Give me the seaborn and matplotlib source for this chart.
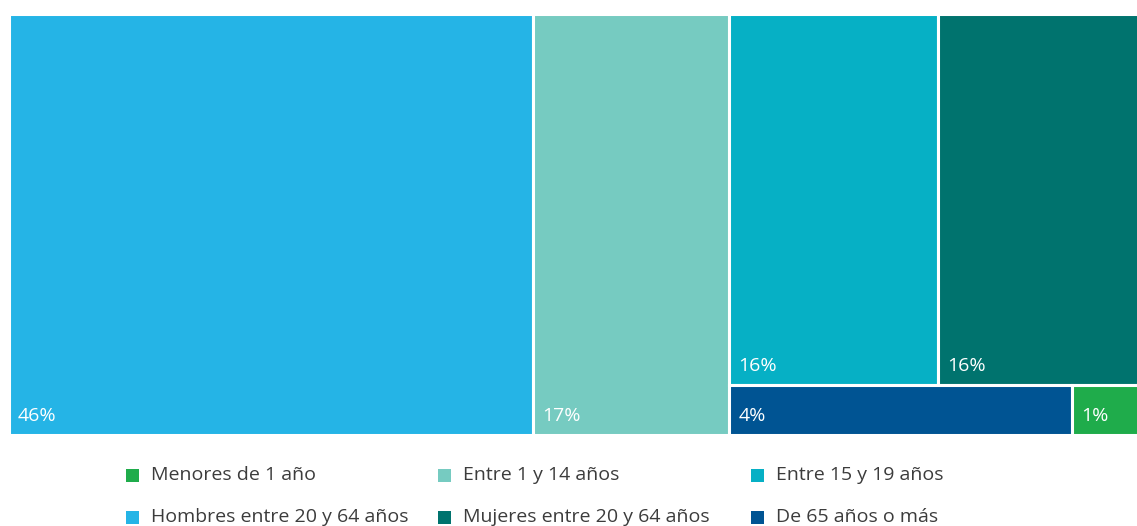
import matplotlib
matplotlib.use("Agg")
import matplotlib.pyplot as plt
from matplotlib.patches import Rectangle
import seaborn as sns

# data, in legend order (shares, labels shown rounded)
categories = ["Menores de 1 año", "Entre 1 y 14 años", "Entre 15 y 19 años",
              "Hombres entre 20 y 64 años", "Mujeres entre 20 y 64 años", "De 65 años o más"]
shares = [0.7, 17.4, 16.3, 46.4, 15.6, 3.6]
colors = ["#1fac4b", "#76cbc1", "#06b0c5", "#25b4e6", "#00736e", "#005493"]

# treemap structure: columns -> rows -> category indices
layout = [[[3]], [[1]], [[2, 4], [5, 0]]]

sns.set_theme(style="white")
plt.rcParams["font.family"] = ["Open Sans", "DejaVu Sans"]

W, H = 1137, 526
fig = plt.figure(figsize=(W / 100, H / 100), dpi=100)
ax = fig.add_axes([8.5 / W, (H - 434.5) / H, (W + 1.5 - 8.5) / W, (434.5 - 14.5) / H])
ax.set_xlim(0, 100)
ax.set_ylim(100, 0)
ax.axis("off")

total = sum(shares)
x = 0.0
for col in layout:
    col_sum = sum(shares[i] for row in col for i in row)
    cw = 100 * col_sum / total
    y = 0.0
    for row in col:
        row_sum = sum(shares[i] for i in row)
        rh = 100 * row_sum / col_sum
        xx = x
        for i in row:
            w = cw * shares[i] / row_sum
            ax.add_patch(Rectangle((xx, y), w, rh, facecolor=colors[i],
                                   edgecolor="white", linewidth=2.2))
            ax.annotate(f"{round(shares[i])}%", xy=(xx, y + rh), xytext=(6.5, 10),
                        textcoords="offset points", color="white", fontsize=14,
                        ha="left", va="baseline")
            xx += w
        y += rh
    x += cw

# legend, 3 columns filled row-wise
col_x = [126, 438, 751]
row_y = [475.5, 517]
for k, (name, c) in enumerate(zip(categories, colors)):
    r, cidx = divmod(k, 3)
    px, py = col_x[cidx], row_y[r]
    fig.patches.append(Rectangle((px / W, (H - py - 6.5) / H), 13 / W, 13 / H,
                                 transform=fig.transFigure, facecolor=c, edgecolor="none"))
    fig.text((px + 25) / W, (H - py) / H, name, fontsize=14, color="#3c3c3c",
             ha="left", va="center")

fig.savefig("out.png", dpi=100)
